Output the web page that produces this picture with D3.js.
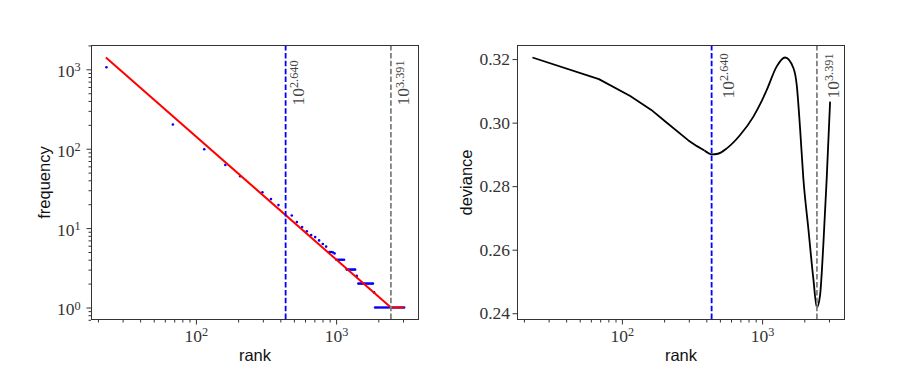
<!DOCTYPE html>
<html>
<head>
<meta charset="utf-8">
<script src="https://cdn.jsdelivr.net/npm/d3@7"></script>
<style>
  body { margin: 0; background: #fff; }
</style>
</head>
<body>
<div id="chart"></div>
<script>
const width = 913;
const height = 381;

// observed rank / frequency points (blue dots)
const pointRank = [23, 68.5, 114.6, 162, 207, 298, 343, 388, 483, 525, 572, 618, 664, 709, 756, 804, 849,
  896, 920, 947, 975,
  1005, 1030, 1055, 1085, 1110, 1139,
  1191, 1220, 1250, 1280, 1310, 1340, 1366,
  1405,
  1442, 1475, 1510, 1545, 1580, 1620, 1660, 1700, 1745, 1790, 1830,
  1866,
  1900, 1950, 2000, 2060, 2120, 2180, 2240, 2300, 2370, 2440, 2510, 2580, 2660, 2740, 2820, 2900, 2980, 3055];
const pointFreq = [1064, 202, 98.6, 62.4, 44.9, 28.2, 23.2, 19.5, 14.4, 11.9, 10.3, 9.1, 8.2, 7.7, 7.0, 6.3, 5.85,
  5.0, 5.0, 4.95, 4.8,
  4, 4, 4, 4, 4, 4,
  3, 3, 3, 3, 3, 3, 3,
  2.5,
  2, 2, 2, 2, 2, 2, 2, 2, 2, 2, 2,
  1.55,
  1, 1, 1, 1, 1, 1, 1, 1, 1, 1, 1, 1, 1, 1, 1, 1, 1, 1];

// fitted power law (red line)
const fitRank = [22.8, 2460, 3055];
const fitFreq = [1409, 1, 1];

// deviance vs rank (sparse ranks first, then the dense part)
const devRank = [23, 68.5, 114.6, 162, 207, 298, 343, 388,
  438, 483, 560, 697, 867, 968, 1080, 1272, 1459,
  1672, 1766, 1866, 1969, 2138, 2321, 2460, 2590, 2733, 2890, 3055];
const devValue = [0.3205, 0.3137, 0.3084, 0.3040, 0.3001, 0.2944, 0.2926, 0.2912,
  0.2900, 0.2902, 0.2919, 0.2961, 0.3019, 0.3058, 0.3103, 0.3177, 0.3205,
  0.3172, 0.3119, 0.2982, 0.2824, 0.2666, 0.2508, 0.2418, 0.2456, 0.2614, 0.2824, 0.3066];
const sparseUntil = 388;

// cutoffs, as log10(rank)
const cutoffs = ["2.640", "3.391"];
const cutoffColors = ["blue", "gray"];

const devTicks = [0.24, 0.26, 0.28, 0.30, 0.32];

const plotTop = 45, plotBottom = 320;
const serif = "'Liberation Serif', serif";
const sans = "'Liberation Sans', sans-serif";

const svg = d3.select("#chart")
  .append("svg")
  .attr("width", width)
  .attr("height", height);

function logPad(vals) {
  const lo = Math.log10(d3.min(vals)), hi = Math.log10(d3.max(vals));
  const p = (hi - lo) * 0.05;
  return [10 ** (lo - p), 10 ** (hi + p)];
}
function linPad(vals) {
  const lo = d3.min(vals), hi = d3.max(vals), p = (hi - lo) * 0.05;
  return [lo - p, hi + p];
}
function logTicks(domain) {
  const majors = [], minors = [];
  for (let e = Math.floor(Math.log10(domain[0])); e <= Math.ceil(Math.log10(domain[1])); e++) {
    for (let m = 1; m < 10; m++) {
      const v = m * 10 ** e;
      if (v < domain[0] || v > domain[1]) continue;
      (m === 1 ? majors : minors).push(v);
    }
  }
  return { majors, minors };
}
function supText(sel, exp) {
  sel.text(null);
  sel.append("tspan").text("10");
  sel.append("tspan").attr("dy", "-0.47em").attr("font-size", "0.7em").text(exp);
}

const xDomain = logPad(pointRank.concat(fitRank, devRank));

function drawXAxis(g, x) {
  const t = logTicks(xDomain);
  g.append("g")
    .attr("transform", "translate(0," + plotBottom + ")")
    .call(d3.axisBottom(x).tickValues(t.minors).tickSize(2.5).tickFormat(""))
    .call(a => a.select(".domain").remove());
  const maj = g.append("g")
    .attr("transform", "translate(0," + plotBottom + ")")
    .call(d3.axisBottom(x).tickValues(t.majors).tickSize(4.5).tickPadding(5))
    .call(a => a.select(".domain").remove());
  maj.selectAll(".tick text")
    .attr("font-family", serif).attr("font-size", 17.5).attr("fill", "#333")
    .each(function (d) { supText(d3.select(this), Math.round(Math.log10(d))); });
  g.selectAll(".tick line").attr("stroke", "#333");
}

function drawFrame(g, left, right) {
  g.append("rect")
    .attr("x", left + 0.5).attr("y", plotTop + 0.5)
    .attr("width", right - left - 1).attr("height", plotBottom - plotTop - 1)
    .attr("fill", "none").attr("stroke", "#333").attr("stroke-width", 1);
}

function drawCutoffs(g, x, labelY, offset) {
  cutoffs.forEach((c, i) => {
    const xv = x(10 ** +c);
    g.append("line")
      .attr("x1", xv).attr("x2", xv).attr("y1", plotTop).attr("y2", plotBottom)
      .attr("stroke", cutoffColors[i]).attr("stroke-width", 1.8)
      .attr("stroke-dasharray", "5.5,2.4");
    const t = g.append("text")
      .attr("transform", "translate(" + (xv + offset) + "," + labelY + ") rotate(-90)")
      .attr("font-family", serif).attr("font-size", 17.5).attr("fill", "#444");
    supText(t, c);
  });
}

// ---------- left panel: frequency vs rank ----------
{
  const left = 91, right = 419;
  const g = svg.append("g");
  const x = d3.scaleLog().domain(xDomain).range([left, right]);
  const yDomain = logPad(pointFreq.concat(fitFreq));
  const y = d3.scaleLog().domain(yDomain).range([plotBottom, plotTop]);

  const yt = logTicks(yDomain);
  g.append("g")
    .attr("transform", "translate(" + left + ",0)")
    .call(d3.axisLeft(y).tickValues(yt.minors).tickSize(2.5).tickFormat(""))
    .call(a => a.select(".domain").remove());
  const ymaj = g.append("g")
    .attr("transform", "translate(" + left + ",0)")
    .call(d3.axisLeft(y).tickValues(yt.majors).tickSize(4.5).tickPadding(6))
    .call(a => a.select(".domain").remove());
  ymaj.selectAll(".tick text")
    .attr("font-family", serif).attr("font-size", 17.5).attr("fill", "#333").attr("dy", "0.42em")
    .each(function (d) { supText(d3.select(this), Math.round(Math.log10(d))); });
  drawXAxis(g, x);

  g.selectAll(".dot")
    .data(pointRank)
    .enter()
    .append("circle")
    .attr("class", "dot")
    .attr("cx", d => x(d))
    .attr("cy", (d, i) => y(pointFreq[i]))
    .attr("r", 1.3)
    .attr("fill", "blue");

  g.append("path")
    .datum(fitRank)
    .attr("d", d3.line().x(d => x(d)).y((d, i) => y(fitFreq[i])))
    .attr("fill", "none").attr("stroke", "red").attr("stroke-width", 2);

  drawCutoffs(g, x, 105.5, 18.5);
  drawFrame(g, left, right);

  g.append("text")
    .attr("x", (left + right) / 2).attr("y", 361)
    .attr("text-anchor", "middle")
    .attr("font-family", sans).attr("font-size", 16.5).attr("fill", "#111")
    .text("rank");
  g.append("text")
    .attr("transform", "translate(49.5," + (plotTop + plotBottom) / 2 + ") rotate(-90)")
    .attr("text-anchor", "middle")
    .attr("font-family", sans).attr("font-size", 16.5).attr("fill", "#111")
    .text("frequency");
}

// ---------- right panel: deviance vs rank ----------
{
  const left = 517, right = 845;
  const g = svg.append("g");
  const x = d3.scaleLog().domain(xDomain).range([left, right]);
  const y = d3.scaleLinear().domain(linPad(devValue)).range([plotBottom, plotTop]);

  g.append("g")
    .attr("transform", "translate(" + left + ",0)")
    .call(d3.axisLeft(y).tickValues(devTicks).tickSize(4.5).tickPadding(2.5).tickFormat(d3.format(".2f")))
    .call(a => a.select(".domain").remove())
    .call(a => a.selectAll(".tick text")
      .attr("font-family", serif).attr("font-size", 17.5).attr("fill", "#333"))
    .call(a => a.selectAll(".tick line").attr("stroke", "#333"));
  drawXAxis(g, x);

  const pts = devRank.map((r, i) => [r, devValue[i]]);
  const sparse = pts.filter(p => p[0] <= sparseUntil);
  const dense = pts.filter(p => p[0] >= sparseUntil);
  const line = d3.line().x(p => x(p[0])).y(p => y(p[1]));

  g.append("path")
    .datum(sparse)
    .attr("d", line)
    .attr("fill", "none").attr("stroke", "black").attr("stroke-width", 1.8)
    .attr("stroke-linejoin", "round");
  g.append("path")
    .datum(dense)
    .attr("d", line.curve(d3.curveMonotoneX))
    .attr("fill", "none").attr("stroke", "black").attr("stroke-width", 1.8);

  drawCutoffs(g, x, 98.5, 22);
  drawFrame(g, left, right);

  g.append("text")
    .attr("x", (left + right) / 2).attr("y", 361)
    .attr("text-anchor", "middle")
    .attr("font-family", sans).attr("font-size", 16.5).attr("fill", "#111")
    .text("rank");
  g.append("text")
    .attr("transform", "translate(472," + (plotTop + plotBottom) / 2 + ") rotate(-90)")
    .attr("text-anchor", "middle")
    .attr("font-family", sans).attr("font-size", 16.5).attr("fill", "#111")
    .text("deviance");
}
</script>
</body>
</html>
